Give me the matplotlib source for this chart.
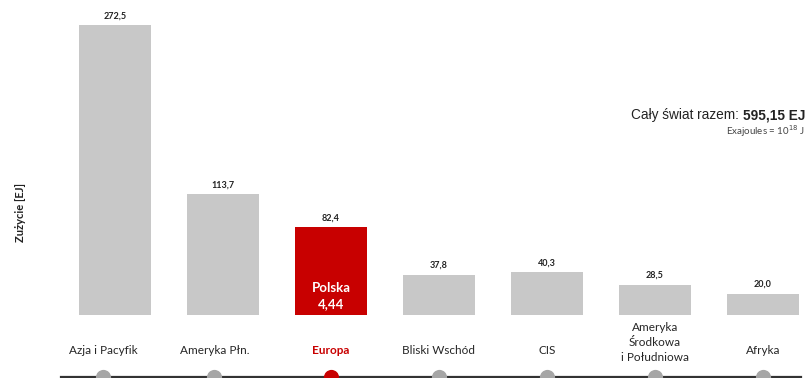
import numpy as np
import matplotlib.pyplot as plt

regions = ["Azja i Pacyfik", "Ameryka Płn.", "Europa", "Bliski Wschód", "CIS",
           "Ameryka\nŚrodkowa\ni Południowa", "Afryka"]
values = [272.5, 113.7, 82.4, 37.8, 40.3, 28.5, 20.0]
value_labels = ["272,5", "113,7", "82,4", "37,8", "40,3", "28,5", "20,0"]
highlight = "Europa"
poland_label = "Polska\n4,44"
total_label = "595,15 EJ"

GRAY = "#c8c8c8"
RED = "#c80000"
DOT = "#a6a6a6"
FONT = ["Lato", "DejaVu Sans"]

plt.rcParams["font.family"] = FONT

fig = plt.figure(figsize=(8.08, 3.78), dpi=100)
ax = fig.add_axes([61 / 808, 63 / 378, 745 / 808, 315 / 378])
ax.set_xlim(-0.5, 6.4)
ax.set_ylim(0, 296)
ax.axis("off")

x = np.arange(len(regions))
colors = [RED if r == highlight else GRAY for r in regions]
ax.bar(x, values, width=0.665, color=colors)

# shift of category label / dot under the first columns
shift = [-0.11, -0.08, 0, 0, 0, 0, 0]

for i, (v, lab) in enumerate(zip(values, value_labels)):
    ax.text(i, v + 4.5, lab, ha="center", va="bottom", fontsize=6.5,
            fontweight="bold", color="#222222")
    is_hl = regions[i] == highlight
    ly = -33 if "\n" not in regions[i] else -26
    ax.text(i + shift[i], ly, regions[i], ha="center", va="center",
            fontsize=8.5, linespacing=1.45,
            color=RED if is_hl else "#262626",
            fontweight="bold" if is_hl else "normal", clip_on=False)

# Polska inside Europe bar
ei = regions.index(highlight)
ax.text(ei, 18, poland_label, ha="center", va="center", fontsize=9.5,
        fontweight="bold", color="white", linespacing=1.45)

# baseline with dots
ax.plot([-0.5, 6.35], [-57.8, -57.8], color="#333333", lw=1.6, clip_on=False)
for i in x:
    ax.scatter(i + shift[i], -57.8, s=120, linewidths=0,
               color=RED if regions[i] == highlight else DOT,
               zorder=3, clip_on=False)

fig.text(20 / 808, 1 - 212 / 378, "Zużycie [EJ]", rotation=90, ha="center",
         va="center", fontsize=8, fontweight="bold", color="#222222")

fig.text(805 / 808, 1 - 115 / 378, "Cały świat razem: ", ha="right", va="center",
         fontsize=9.8, family="Liberation Sans", color="#222222")
t = fig.text(805 / 808, 1 - 115 / 378, total_label, ha="right", va="center",
             fontsize=9.8, family="Liberation Sans", fontweight="bold",
             color="#222222")
# place the normal part to the left of the bold part
fig.canvas.draw()
bb = t.get_window_extent()
fig.texts[-2].set_x(bb.x0 / 808)
fig.text(805 / 808, 1 - 131 / 378, "Exajoules = 10$^{18}$ J", ha="right",
         va="center", fontsize=7, color="#444444")

fig.savefig("out.png", dpi=100)
